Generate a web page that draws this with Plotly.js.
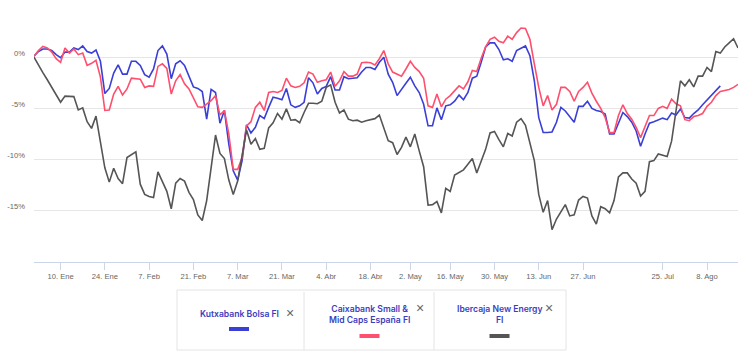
<!DOCTYPE html>
<html><head><meta charset="utf-8">
<script src="https://cdn.plot.ly/plotly-3.0.1.min.js"></script>
<style>html,body{margin:0;padding:0;background:#fff}#chart{width:748px;height:352px}</style>
</head><body><div id="chart"></div>
<script>
// ---- data ----
const startDate = '2021-12-31';
const endDate = '2022-08-17';
const closedDays = ['2022-04-18', '2022-05-02', '2022-07-11', '2022-07-12'];

const seriesNames = ['Kutxabank Bolsa FI', 'Caixabank Small &<br>Mid Caps España FI', 'Ibercaja New Energy<br>FI'];

// % performance, one value per trading day
const kutxabank = [
  0.1, 0.55, 0.8, 0.8, 0.65, 0.25, -0.05, 0.5, 0.5, 0.9,
  0.75, 1.1, 0.55, 0.4, 0.7, -0.4, -3.55, -3.05, -1.55, -0.75,
  -1.65, -1.65, -0.4, -0.4, -0.8, -1.7, -1.95, -1.15, 0.65, 1.1,
  0.3, -2.1, -0.65, -0.35, -0.8, -1.8, -2.9, -3.05, -3.35, -6.05,
  -3.15, -3.45, -6.45, -5.2, -8.5, -11.1, -12.0, -10.1, -6.6, -7.4,
  -6.85, -5.7, -6.0, -4.9, -3.9, -4.0, -4.15, -3.05, -4.65, -4.9,
  -4.75, -4.4, -2.0, -2.5, -3.6, -3.05, -2.85, -1.9, -3.2, -3.2,
  -1.9, -2.1, -2.05, -2.0, -1.45, -1.0, -1.0, -1.2, -0.5, 0.0,
  -1.65, -2.45, -3.75, -3.2, -2.55, -1.95, -2.8, -3.45, -4.6, -6.7,
  -6.7, -4.95, -6.1, -4.75, -4.65, -4.3, -3.7, -4.15, -3.45, -2.05,
  -1.85, -0.5, 1.0, 1.4, 1.4, 0.75, -0.25, -0.15, -0.4, 0.65,
  0.9, 1.1, 0.15, -2.3, -5.9, -7.35, -7.35, -7.3, -6.35, -4.9,
  -5.25, -5.8, -6.35, -4.8, -4.8, -4.3, -5.0, -5.2, -5.3, -5.55,
  -7.5, -7.5, -6.4, -5.4, -5.8, -6.35, -7.2, -8.7, -7.5, -6.45,
  -6.3, -6.15, -5.95, -6.1, -5.45, -5.65, -5.05, -5.9, -5.95, -5.5,
  -5.15, -4.65, -4.2, -3.7, -3.2, -2.8
];
const caixabank = [
  0.1, 0.65, 1.05, 0.9, 0.5, -0.15, -0.5, 0.9, 0.4, 0.8,
  0.25, 0.4, -0.8, -0.6, -0.3, -1.95, -5.2, -5.15, -3.6, -2.85,
  -3.7, -3.1, -2.05, -2.1, -2.15, -2.95, -2.8, -2.85, -0.9, -0.65,
  -1.1, -3.6, -2.3, -1.7, -2.6, -3.1, -3.9, -4.85, -4.9, -4.55,
  -4.25, -3.75, -5.65, -5.2, -7.5, -10.95, -10.95, -9.8, -6.7, -6.3,
  -4.9, -4.4, -5.2, -3.45, -3.35, -3.45, -3.25, -2.05, -2.8, -2.95,
  -2.85, -2.5, -1.45, -1.65, -2.45, -2.3, -2.2, -1.45, -2.85, -2.3,
  -1.4, -1.85, -1.85, -1.65, -0.55, -0.5, -0.55, -0.75, -0.15, 0.65,
  -0.65, -1.45, -1.65, -1.85, -1.15, -0.4, -1.0, -1.4, -2.05, -4.75,
  -4.9, -3.6, -4.85, -4.1, -3.75, -3.25, -2.8, -3.1, -2.4, -1.3,
  -1.4, -0.1, 1.0, 1.75, 1.95, 1.55, 1.4, 2.05, 1.75, 2.4,
  2.85, 2.8, 1.75, -0.65, -2.95, -4.75, -3.75, -5.15, -4.6, -2.95,
  -2.95, -3.35, -4.3, -3.35, -2.95, -2.45, -3.5, -4.3, -5.0, -5.9,
  -7.35, -7.35, -5.7, -4.65, -5.5, -6.05, -6.85, -7.85, -6.7, -5.7,
  -5.7, -5.0, -4.8, -5.0, -4.1, -4.55, -4.75, -6.1, -6.2, -5.8,
  -5.7, -5.5, -4.8, -4.4, -3.75, -3.35, -3.25, -3.15, -2.95, -2.65
];
const ibercaja = [
  0.0, -0.8, -1.5, -2.2, -2.9, -3.6, -4.4, -3.8, -3.8, -3.85,
  -5.15, -4.95, -6.3, -6.95, -5.75, -8.3, -10.8, -12.2, -10.85, -11.85,
  -12.35, -9.8, -9.55, -9.25, -12.4, -13.4, -13.6, -13.7, -11.2, -12.1,
  -13.1, -14.8, -12.3, -11.85, -12.1, -13.2, -13.9, -15.4, -15.95, -14.0,
  -10.9, -7.6, -9.4, -9.9, -12.0, -13.4, -12.1, -9.6, -7.1, -8.5,
  -7.95, -9.0, -8.9, -6.9, -6.4, -5.5, -6.05, -5.05, -6.15, -6.1,
  -6.4, -5.4, -4.5, -4.5, -4.55, -4.3, -2.95, -2.7, -4.4, -5.45,
  -5.15, -6.05, -6.2, -6.15, -6.35, -6.2, -6.1, -6.0, -5.65, -7.0,
  -8.15, -8.35, -9.5, -8.8, -7.8, -8.75, -7.5, -9.15, -10.7, -14.45,
  -14.4, -14.1, -15.2, -12.8, -13.1, -11.5, -11.25, -11.0, -10.45, -9.9,
  -11.3, -10.15, -9.0, -7.4, -7.25, -8.05, -8.75, -7.45, -7.7, -6.35,
  -6.0, -6.65, -8.5, -10.1, -13.4, -15.15, -14.0, -16.85, -15.8, -15.1,
  -14.4, -15.5, -15.4, -13.95, -13.6, -13.75, -15.5, -16.3, -14.6, -14.8,
  -15.2, -14.0, -11.7, -11.3, -11.3, -11.9, -12.3, -13.55, -13.1, -10.2,
  -10.1, -9.45, -9.55, -9.7, -8.2, -5.05, -2.3, -2.8, -2.2, -2.9,
  -1.85, -1.85, -1.0, -1.4, 0.55, 0.4, 1.0, 1.4, 1.8, 0.9
];

const tickDates = ['2022-01-10','2022-01-24','2022-02-07','2022-02-21','2022-03-07','2022-03-21','2022-04-04','2022-04-18','2022-05-02','2022-05-16','2022-05-30','2022-06-13','2022-06-27','2022-07-25','2022-08-08'];
const tickLabels = ['10. Ene','24. Ene','7. Feb','21. Feb','7. Mar','21. Mar','4. Abr','18. Abr','2. May','16. May','30. May','13. Jun','27. Jun','25. Jul','8. Ago'];
const yTickVals = [-15, -10, -5, 0, 5];
const yTickLabels = ['-15%', '-10%', '-5%', '0%', ''];

// ---- trading-day calendar (weekdays, minus closed days) ----
const dates = [];
for (let d = new Date(startDate + 'T00:00:00Z'); d <= new Date(endDate + 'T00:00:00Z'); d.setUTCDate(d.getUTCDate() + 1)) {
  const wd = d.getUTCDay();
  const s = d.toISOString().slice(0, 10);
  if (wd !== 0 && wd !== 6 && !closedDays.includes(s)) dates.push(s);
}
// a tick on a closed day sits where the axis resumes (next trading day)
const tickPos = tickDates.map(t => dates.find(d => d >= t));

const colors = ['#3a3fd6', '#ff4f6e', '#555555'];
const series = [kutxabank, caixabank, ibercaja];
const traces = series.map((vals, i) => ({
  type: 'scatter', mode: 'lines',
  x: dates.slice(0, vals.length), y: vals,
  line: {color: colors[i], width: 1.6},
  hoverinfo: 'skip', showlegend: false
}));

// ---- custom legend box (pixel helpers) ----
const L = 34, R = 10, T = 6, B = 90, W = 748, H = 352;
const pw = W - L - R, ph = H - T - B;
const px = v => (v - L) / pw;
const py = v => (H - B - v) / ph;

const shapes = [
  {type: 'rect', xref: 'paper', yref: 'paper', x0: px(177), x1: px(566), y0: py(290), y1: py(350), line: {color: '#e4e4e4', width: 1}, fillcolor: 'rgba(0,0,0,0)'},
  {type: 'line', xref: 'paper', yref: 'paper', x0: px(304), x1: px(304), y0: py(292), y1: py(350), line: {color: '#e4e4e4', width: 1}},
  {type: 'line', xref: 'paper', yref: 'paper', x0: px(434), x1: px(434), y0: py(292), y1: py(350), line: {color: '#e4e4e4', width: 1}}
];
const legendItems = [
  {cx: 239, ty: 313.5, close: [290, 313], sw: 329},
  {cx: 369.5, ty: 314, close: [419.5, 307.5], sw: 336},
  {cx: 499.5, ty: 314, close: [549, 307.5], sw: 336}
];
const annotations = [];
legendItems.forEach((it, i) => {
  annotations.push({xref: 'paper', yref: 'paper', x: px(it.cx), y: py(it.ty), text: seriesNames[i], showarrow: false, xanchor: 'center', yanchor: 'middle', align: 'center',
    font: {family: 'Inter, Roboto, sans-serif', size: 8.6, color: '#3a3dc0', weight: 600}});
  annotations.push({xref: 'paper', yref: 'paper', x: px(it.close[0]), y: py(it.close[1]), text: '×', showarrow: false, xanchor: 'center', yanchor: 'middle',
    font: {family: 'Liberation Sans, Arial, sans-serif', size: 14, color: '#666'}});
  shapes.push({type: 'line', xref: 'paper', yref: 'paper', x0: px(it.cx - 10), x1: px(it.cx + 10), y0: py(it.sw), y1: py(it.sw), line: {color: colors[i], width: 4}});
});

const layout = {
  width: W, height: H,
  margin: {l: L, r: R, t: T, b: B},
  paper_bgcolor: '#fff', plot_bgcolor: '#fff',
  showlegend: false,
  xaxis: {
    type: 'date', range: [startDate, endDate],
    rangebreaks: [{bounds: ['sat', 'mon']}, {values: closedDays}],
    tickmode: 'array', tickvals: tickPos, ticktext: tickLabels,
    showgrid: false, zeroline: false,
    showline: true, linecolor: '#ccd6eb', linewidth: 1,
    ticks: 'outside', ticklen: 7, tickcolor: '#ccd6eb', tickwidth: 1,
    tickfont: {family: 'Liberation Sans, Arial, sans-serif', size: 7.6, color: '#666'}
  },
  yaxis: {
    range: [-20, 5], tickmode: 'array', tickvals: yTickVals, ticktext: yTickLabels,
    showgrid: true, gridcolor: '#e6e6e6', gridwidth: 1,
    zeroline: false, showline: false, ticks: '',
    ticklabelstandoff: 8, ticklabelshift: -4,
    tickfont: {family: 'Liberation Sans, Arial, sans-serif', size: 7.6, color: '#666'}
  },
  shapes: shapes,
  annotations: annotations
};

Plotly.newPlot('chart', traces, layout, {staticPlot: true, displayModeBar: false});
</script>
</body></html>
